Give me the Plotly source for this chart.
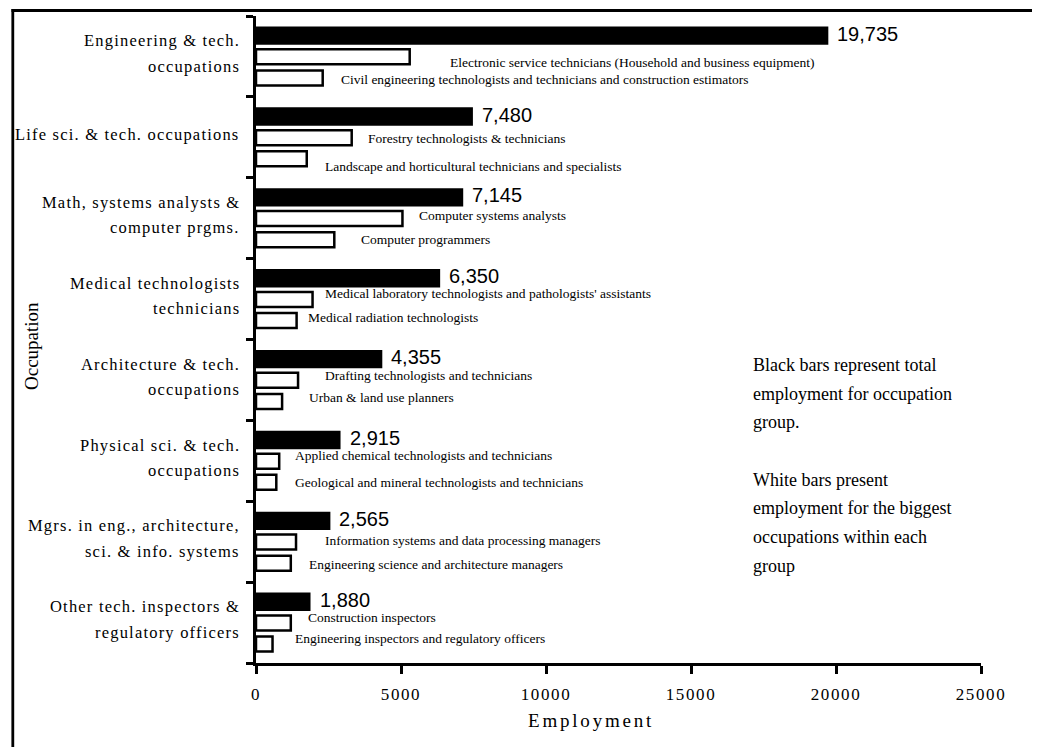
import plotly.graph_objects as go

# ---- data -------------------------------------------------------------
group_labels = [
    "Engineering & tech.\noccupations",
    "Life sci. & tech. occupations",
    "Math, systems analysts &\ncomputer prgms.",
    "Medical technologists\ntechnicians",
    "Architecture & tech.\noccupations",
    "Physical sci. & tech.\noccupations",
    "Mgrs. in eng., architecture,\nsci. & info. systems",
    "Other tech. inspectors &\nregulatory officers",
]
group_totals = [19735, 7480, 7145, 6350, 4355, 2915, 2565, 1880]

first_names = [
    "Electronic service technicians (Household and business equipment)",
    "Forestry technologists & technicians",
    "Computer systems analysts",
    "Medical laboratory technologists and pathologists' assistants",
    "Drafting technologists and technicians",
    "Applied chemical technologists and technicians",
    "Information systems and data processing managers",
    "Construction inspectors",
]
first_values = [5300, 3300, 5050, 1950, 1450, 800, 1380, 1200]

second_names = [
    "Civil engineering technologists and technicians and construction estimators",
    "Landscape and horticultural technicians and specialists",
    "Computer programmers",
    "Medical radiation technologists",
    "Urban & land use planners",
    "Geological and mineral technologists and technicians",
    "Engineering science and architecture managers",
    "Engineering inspectors and regulatory officers",
]
second_values = [2300, 1750, 2700, 1400, 900, 700, 1200, 570]

x_ticks = [0, 5000, 10000, 15000, 20000, 25000]

note_lines = [
    "Black bars represent total",
    "employment for occupation",
    "group.",
    "",
    "White bars present",
    "employment for the biggest",
    "occupations within each",
    "group",
]

# ---- layout constants -------------------------------------------------
W, H = 1039, 747
M_L, M_R, M_T, M_B = 256, 58, 4, 84
PLOT_TOP = 16                      # pixel row of the top of the bar area
PAPER_W = W - M_L - M_R
PAPER_H = H - M_T - M_B
Y_DOMAIN_TOP = (H - M_B - PLOT_TOP) / PAPER_H
X_MAX = 25000
N = len(group_labels)

SERIF = "Liberation Serif, Times New Roman, serif"
SANS = "Liberation Sans, Arial, sans-serif"

# vertical slot of each bar inside its group band (fraction of band)
POS_TOTAL, POS_FIRST, POS_SECOND = 0.243, 0.505, 0.766
W_TOTAL, W_SUB = 0.228, 0.186

# label placement for the occupation names (pixels from the axis / bar centre)
first_dx = [192, 110, 161, 67, 67, 37, 67, 50]
first_dy = [6, 1, -3, -6, -5, -6, -2, -5]
second_dx = [83, 67, 103, 50, 51, 37, 51, 37]
second_dy = [2, 8, 0, -3, -4, 0, 1, -6]


def px_x(px):
    return (px - M_L) / PAPER_W


def px_y(py):
    return (H - M_B - py) / PAPER_H


def spaced(text, gap):
    return f'<span style="letter-spacing:{gap}px">{text}</span>'


idx = list(range(N))

fig = go.Figure()

fig.add_trace(go.Bar(
    orientation="h",
    x=group_totals,
    y=[i + POS_TOTAL for i in idx],
    width=W_TOTAL,
    marker=dict(color="black", line=dict(width=0)),
    hoverinfo="x",
))
fig.add_trace(go.Bar(
    orientation="h",
    x=first_values,
    y=[i + POS_FIRST for i in idx],
    width=W_SUB,
    marker=dict(color="white", line=dict(color="black", width=2.5)),
    hovertext=first_names,
))
fig.add_trace(go.Bar(
    orientation="h",
    x=second_values,
    y=[i + POS_SECOND for i in idx],
    width=W_SUB,
    marker=dict(color="white", line=dict(color="black", width=2.5)),
    hovertext=second_names,
))

annotations = []

# totals next to the black bars
for i, v in enumerate(group_totals):
    annotations.append(dict(
        x=v, y=i + POS_TOTAL, xref="x", yref="y",
        text=f"{v:,}", showarrow=False, xanchor="left", yanchor="middle",
        xshift=7, yshift=2,
        font=dict(family=SANS, size=20, color="black"),
    ))

# occupation names beside the white bars
for names, dxs, dys, pos in ((first_names, first_dx, first_dy, POS_FIRST),
                             (second_names, second_dx, second_dy, POS_SECOND)):
    for i, name in enumerate(names):
        annotations.append(dict(
            x=0, y=i + pos, xref="x", yref="y",
            text=name, showarrow=False, xanchor="left", yanchor="middle",
            xshift=dxs[i], yshift=-dys[i],
            font=dict(family=SERIF, size=13.5, color="black"),
        ))

# group names on the left, one annotation per line
LINE_GAP = 25.5
for i, label in enumerate(group_labels):
    lines = label.split("\n")
    k = len(lines)
    for j, line in enumerate(lines):
        offset = (j - (k - 1) / 2) * LINE_GAP
        annotations.append(dict(
            x=0, y=i + 0.5, xref="x", yref="y",
            text=spaced(line, 1.2), showarrow=False,
            xanchor="right", yanchor="middle",
            xshift=-14, yshift=3 - offset,
            font=dict(family=SERIF, size=16.5, color="black"),
        ))

# axis titles
annotations.append(dict(
    x=px_x(31), y=px_y(346), xref="paper", yref="paper",
    text="Occupation", textangle=-90, showarrow=False,
    xanchor="center", yanchor="middle",
    font=dict(family=SERIF, size=19, color="black"),
))
annotations.append(dict(
    x=px_x(591), y=px_y(721), xref="paper", yref="paper",
    text=spaced("Employment", 2.8), showarrow=False,
    xanchor="center", yanchor="middle",
    font=dict(family=SERIF, size=19, color="black"),
))

# explanatory note
NOTE_TOP, NOTE_STEP = 365, 28.65
for k, line in enumerate(note_lines):
    if not line:
        continue
    annotations.append(dict(
        x=px_x(751), y=px_y(NOTE_TOP + k * NOTE_STEP), xref="paper", yref="paper",
        text=line, showarrow=False, xanchor="left", yanchor="middle",
        font=dict(family=SERIF, size=18, color="black"),
    ))

# outer frame: top and left edges
shapes = [
    dict(type="line", xref="paper", yref="paper", layer="above",
         x0=px_x(11.5), x1=px_x(1032), y0=px_y(10.5), y1=px_y(10.5),
         line=dict(color="black", width=3)),
    dict(type="line", xref="paper", yref="paper", layer="above",
         x0=px_x(12.8), x1=px_x(12.8), y0=px_y(9), y1=px_y(H + 10),
         line=dict(color="black", width=2.8)),
]

fig.update_layout(
    width=W, height=H,
    margin=dict(l=M_L, r=M_R, t=M_T, b=M_B, pad=0),
    paper_bgcolor="white", plot_bgcolor="white",
    barmode="overlay", showlegend=False,
    annotations=annotations, shapes=shapes,
    font=dict(family=SERIF, color="black"),
    xaxis=dict(
        range=[0, X_MAX], tickvals=x_ticks,
        ticktext=[spaced(str(t), 1.6) for t in x_ticks],
        showline=True, linecolor="black", linewidth=2.5,
        ticks="outside", ticklen=8, tickwidth=2.5, tickcolor="black",
        showgrid=False, zeroline=False,
        tickfont=dict(family=SERIF, size=17, color="black"),
        ticklabelstandoff=6,
    ),
    yaxis=dict(
        domain=[0, Y_DOMAIN_TOP],
        range=[N, 0], tickvals=list(range(N + 1)),
        ticktext=[""] * (N + 1),
        showline=True, linecolor="black", linewidth=2.5,
        ticks="outside", ticklen=7, tickwidth=2.5, tickcolor="black",
        showgrid=False, zeroline=False,
    ),
)

fig.write_html("out.html")
